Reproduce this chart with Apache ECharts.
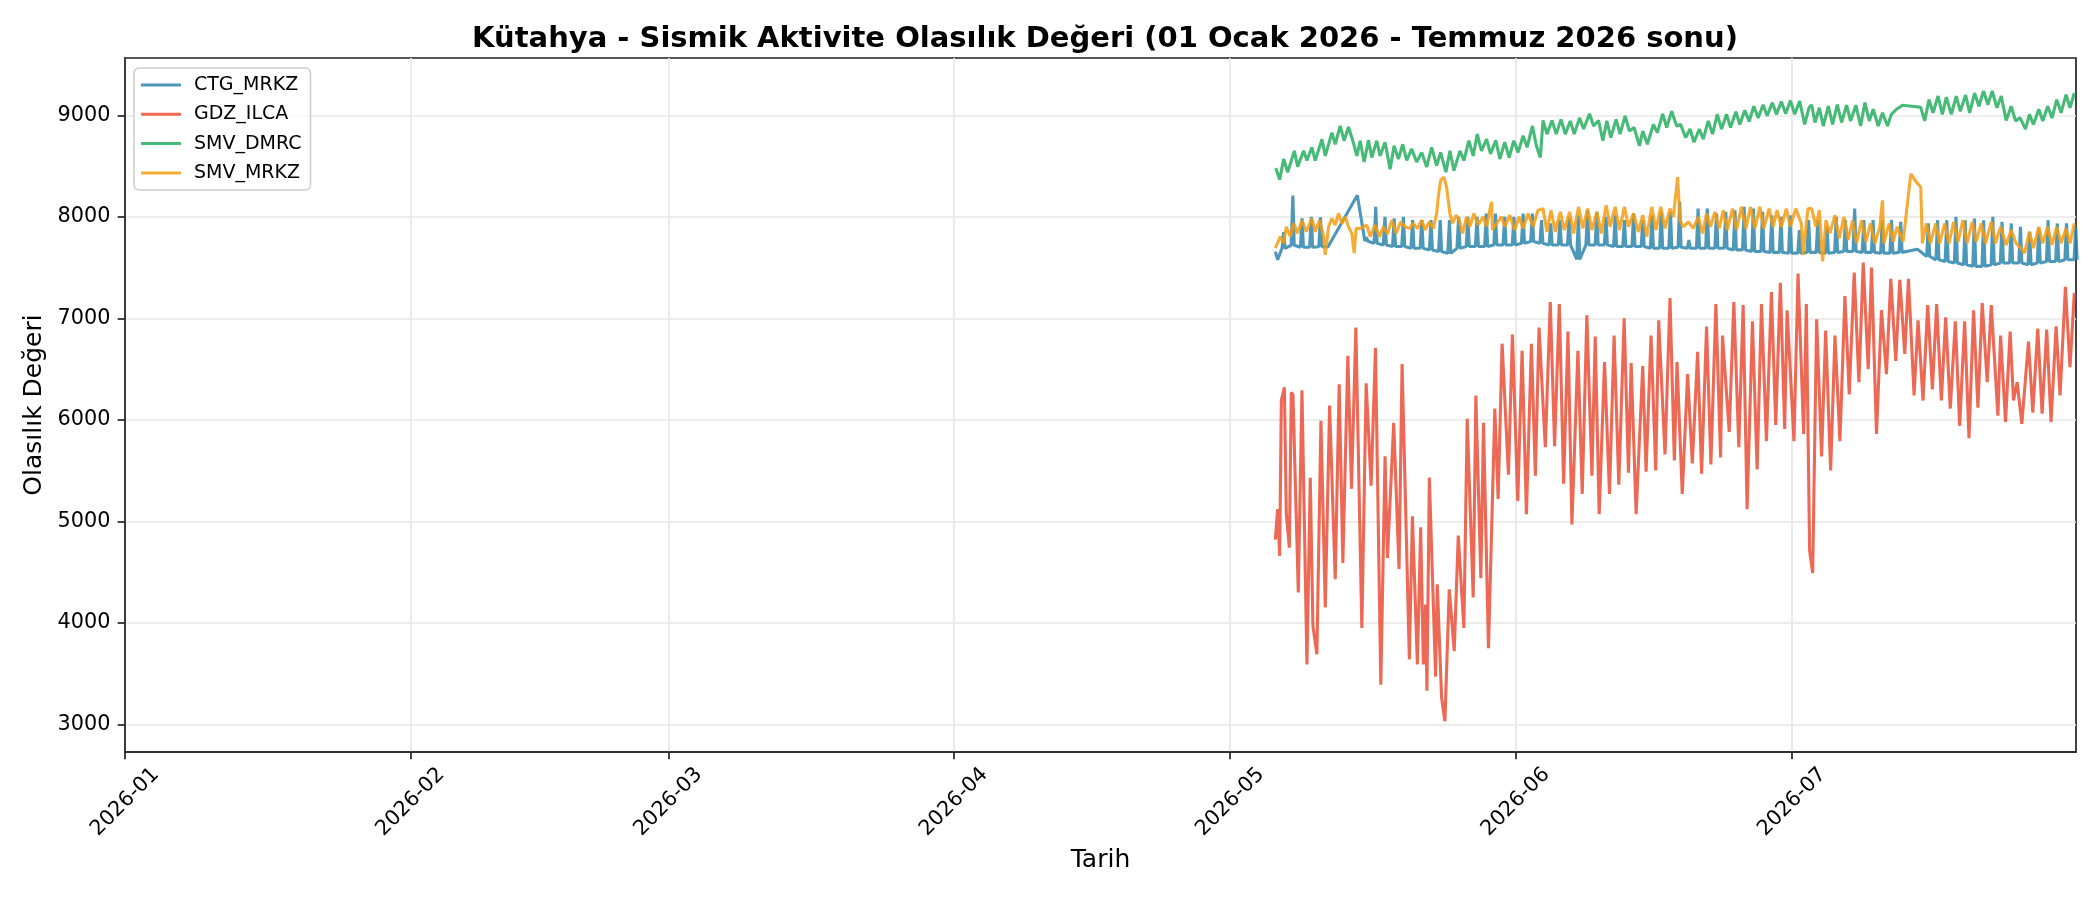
<!DOCTYPE html>
<html>
<head>
<meta charset="utf-8">
<script src="https://cdn.jsdelivr.net/npm/echarts@6/dist/echarts.min.js"></script>
<style>
html,body{margin:0;padding:0;background:#fff;}
#chart{width:2100px;height:900px;}
</style>
</head>
<body>
<div id="chart"></div>
<script>
// ---- DATA (day = days since 2026-01-01 00:00 UTC) ----
const seriesNames = ['CTG_MRKZ', 'GDZ_ILCA', 'SMV_DMRC', 'SMV_MRKZ'];
const monthTicks = ['2026-01-01','2026-02-01','2026-03-01','2026-04-01','2026-05-01','2026-06-01','2026-07-01'];
const yTicks = [3000, 4000, 5000, 6000, 7000, 8000, 9000];

// CTG_MRKZ: leading points, then per-day base level and daily spike (first day = day 125, 2026-05-06)
const ctgLead = [[124.90, 7658], [125.15, 7577]];
const ctgFirstDay = 125;
const ctgBase = [7690,7720,7700,7700,7705,7705,null,null,null,7760,
  7740,7723,7707,7707,7691,7691,7674,7658,7640,7691,
  7707,7707,7707,7723,7723,7723,7739,7756,7739,7723,
  7723,7723,7580,7723,7723,7723,7707,7707,7707,7707,
  7691,7691,7691,7700,7691,7691,7691,7691,7691,7674,
  7674,7658,7658,7650,7650,7642,7642,7650,7650,7642,
  7650,7658,7658,7650,7650,7642,7642,7650,null,7680,
  7610,7577,7560,7545,7528,7512,7512,7528,7545,7545,
  7545,7528,7545,7560,7560,7577,7577];
const ctgPeak = [7850,8210,7985,8000,7995,null,null,null,8212,7800,
  8098,8000,7984,8000,7967,7967,7967,7967,7967,8000,
  8000,8000,8033,8033,8000,8000,8033,8033,7967,7935,
  7967,8000,8016,8065,8049,8000,8016,7967,8033,7967,
  8016,8049,8049,8147,7772,8081,8081,8033,8049,8065,
  8098,8081,8049,8016,8000,8016,7870,7967,7967,7902,
  8000,7967,8081,7967,7967,7967,7967,7951,null,null,
  7935,7967,7967,8000,7967,7984,7967,8000,7951,7935,
  7902,7853,7886,7967,7935,7935,7902];

const GDZ_ILCA = [[124.90,4820],[125.15,5120],[125.37,4660],[125.55,6190],[125.88,6320],[126.09,5070],[126.42,4740],[126.63,6270],[126.81,6250],[127.39,4300],
[127.79,6290],[128.33,3590],[128.69,5430],[128.98,3970],[129.41,3690],[129.85,5990],[130.32,4150],[130.79,6140],[131.40,4430],[131.83,6350],
[132.23,4590],[132.77,6630],[133.17,5320],[133.64,6910],[134.29,3950],[134.76,6360],[135.30,5350],[135.77,6710],[136.35,3390],[136.81,5640],
[137.07,4640],[137.75,5970],[138.33,4530],[138.66,6550],[139.45,3640],[139.78,5050],[140.32,3590],[140.68,4940],[140.97,3590],[141.22,4180],
[141.36,3330],[141.62,5430],[142.30,3470],[142.48,4380],[142.95,3260],[143.31,3030],[143.78,4330],[144.32,3720],[144.76,4860],[145.37,3950],
[145.73,6010],[146.38,4250],[146.67,6240],[147.21,4440],[147.50,5970],[148.04,3750],[148.73,6110],[149.09,5220],[149.52,6750],[150.21,5460],
[150.64,6840],[151.22,5200],[151.69,6680],[152.16,5070],[152.70,6750],[153.13,5450],[153.53,6910],[154.21,5730],[154.75,7160],[155.22,5740],
[155.73,7140],[156.20,5370],[156.67,6870],[157.10,4970],[157.75,6680],[158.22,5270],[158.72,7030],[159.27,5450],[159.63,6820],[160.06,5070],
[160.64,6570],[161.18,5270],[161.68,6830],[162.19,5360],[162.77,7000],[163.24,5480],[163.53,6560],[164.07,5070],[164.79,6530],[165.15,5490],
[165.69,6830],[166.20,5500],[166.52,6980],[167.21,5660],[167.75,7200],[168.22,5600],[168.51,6570],[169.08,5270],[169.66,6450],[170.17,5570],
[170.75,6670],[171.18,5470],[171.72,6920],[172.19,5560],[172.73,7140],[173.24,5630],[173.45,6830],[174.18,5880],[174.68,7160],[175.22,5730],
[175.69,7130],[176.12,5120],[176.70,6970],[177.21,5510],[177.68,7140],[178.22,5790],[178.76,7260],[179.23,5950],[179.73,7350],[180.20,5910],
[180.46,7080],[181.21,5790],[181.65,7440],[182.26,5860],[182.55,7140],[182.91,4710],[183.24,4490],[183.67,6990],[184.21,5640],[184.65,6880],
[185.19,5500],[185.66,6830],[186.20,5790],[186.74,7220],[187.21,6250],[187.75,7450],[188.26,6370],[188.73,7550],[189.27,6500],[189.63,7500],
[190.17,5860],[190.71,7080],[191.25,6450],[191.72,7390],[192.26,6580],[192.70,7380],[193.24,6650],[193.64,7390],[194.25,6240],[194.68,6980],
[195.22,6190],[195.73,7130],[196.24,6300],[196.70,7140],[197.21,6190],[197.68,7010],[198.18,6110],[198.73,6970],[199.20,5940],[199.74,6970],
[200.21,5820],[200.71,7080],[201.18,6120],[201.65,7150],[202.19,6370],[202.63,7130],[203.35,6040],[203.64,6830],[204.18,5980],[204.68,6870],
[205.04,6190],[205.44,6370],[205.95,5960],[206.67,6770],[207.14,6070],[207.68,6900],[208.15,6060],[208.65,6890],[209.12,5980],[209.67,6920],
[210.10,6240],[210.68,7310],[211.18,6520],[211.65,7250]];

const SMV_DMRC = [[124.95,8482],[125.37,8365],[125.80,8570],[126.24,8440],[126.96,8650],[127.32,8495],[127.97,8650],[128.33,8555],[128.87,8685],[129.23,8555],
[129.96,8765],[130.32,8600],[131.04,8830],[131.40,8715],[131.94,8895],[132.37,8750],[132.84,8885],[133.31,8750],[133.75,8600],[134.11,8750],
[134.54,8540],[135.01,8755],[135.37,8585],[135.91,8750],[136.27,8600],[136.81,8735],[137.36,8470],[137.79,8700],[138.26,8570],[138.73,8715],
[139.16,8555],[139.70,8670],[140.24,8540],[140.79,8635],[141.33,8490],[141.87,8685],[142.41,8505],[142.84,8635],[143.42,8440],[143.85,8650],
[144.29,8455],[144.94,8650],[145.37,8555],[145.91,8750],[146.38,8600],[146.82,8815],[147.28,8650],[147.83,8765],[148.26,8620],[148.84,8755],
[149.27,8570],[149.81,8735],[150.28,8585],[150.79,8750],[151.26,8635],[151.80,8800],[152.23,8685],[152.81,8895],[153.24,8700],[153.67,8585],
[153.96,8950],[154.39,8815],[154.93,8950],[155.40,8815],[155.91,8960],[156.38,8815],[156.92,8945],[157.35,8815],[157.93,8975],[158.36,8865],
[159.01,9015],[159.45,8895],[159.99,8950],[160.46,8750],[160.89,8945],[161.32,8780],[161.90,8960],[162.33,8815],[162.88,8995],[163.34,8845],
[163.85,8880],[164.43,8700],[164.79,8845],[165.29,8715],[165.94,8910],[166.38,8830],[166.95,9015],[167.39,8880],[167.93,9040],[168.47,8895],
[168.90,8910],[169.45,8780],[169.92,8865],[170.35,8735],[170.93,8865],[171.36,8765],[171.90,8945],[172.37,8815],[172.88,9010],[173.35,8865],
[173.89,9010],[174.32,8880],[174.90,9035],[175.33,8910],[175.87,9050],[176.34,8940],[176.85,9090],[177.32,8975],[177.86,9105],[178.29,8995],
[178.87,9125],[179.30,9010],[179.84,9135],[180.31,9015],[180.82,9145],[181.29,9010],[181.83,9140],[182.37,8910],[182.84,9075],[183.13,9105],
[183.49,8930],[183.96,9075],[184.39,8895],[184.94,9090],[185.40,8910],[185.91,9105],[186.38,8930],[186.92,9100],[187.35,8945],[187.93,9100],
[188.44,8895],[188.91,9125],[189.38,8945],[189.81,9060],[190.35,8895],[190.82,9025],[191.36,8895],[191.79,9010],[192.34,9060],[192.99,9100],
[194.97,9080],[195.40,8945],[195.87,9155],[196.31,9025],[196.85,9190],[197.32,9010],[197.75,9180],[198.29,9010],[198.83,9190],[199.27,9040],
[199.85,9200],[200.28,9025],[200.82,9220],[201.29,9090],[201.79,9240],[202.26,9105],[202.73,9240],[203.24,9075],[203.71,9190],[204.25,8950],
[204.79,9090],[205.26,8945],[205.77,8975],[206.34,8865],[206.78,9010],[207.21,8910],[207.79,9060],[208.22,8945],[208.76,9090],[209.23,8975],
[209.74,9155],[210.21,9025],[210.75,9205],[211.18,9075],[211.65,9220]];

const SMV_MRKZ = [[124.90,7691],[125.44,7805],[125.80,7739],[126.09,7902],[126.53,7805],[126.89,7935],[127.32,7837],[127.79,7967],[128.26,7853],[128.87,7984],
[129.23,7853],[129.70,7967],[130.14,7805],[130.32,7625],[130.68,7902],[131.04,7984],[131.40,7919],[131.76,8033],[132.12,7935],[132.48,8000],
[132.84,7902],[133.20,7837],[133.46,7642],[133.67,7886],[134.11,7886],[134.47,7902],[134.83,7919],[135.19,7805],[135.73,7919],[136.20,7805],
[136.63,7902],[137.07,7831],[137.54,7967],[138.01,7837],[138.51,7951],[138.98,7902],[139.45,7886],[139.88,7935],[140.32,7886],[140.79,7967],
[141.15,7870],[141.62,7951],[142.05,7886],[142.41,8033],[142.59,8195],[142.84,8358],[143.20,8391],[143.49,8293],[143.85,8033],[144.14,7935],
[144.50,8016],[144.87,7967],[145.23,7837],[145.66,8000],[146.02,7902],[146.45,8033],[146.92,7919],[147.46,8000],[147.83,7902],[148.37,8147],
[148.48,7870],[148.91,7935],[149.45,8000],[149.81,7902],[150.35,8016],[150.89,7870],[151.36,8000],[151.80,7886],[152.34,8033],[152.88,7902],
[153.42,8065],[153.96,8081],[154.39,7853],[154.83,8065],[155.29,7853],[155.84,8049],[156.27,7870],[156.85,8049],[157.28,7837],[157.82,8098],
[158.29,7886],[158.80,8081],[159.27,7870],[159.81,8049],[160.28,7837],[160.82,8114],[161.25,7902],[161.79,8098],[162.26,7870],[162.80,8098],
[163.24,7902],[163.78,8033],[164.32,7853],[164.79,8016],[165.22,7805],[165.76,8098],[166.23,7870],[166.74,8098],[167.21,7886],[167.75,8081],
[168.11,8000],[168.58,8391],[168.83,7967],[169.20,7902],[169.74,7951],[170.28,7886],[170.82,8000],[171.29,7837],[171.72,8033],[172.15,7902],
[172.62,8049],[173.09,7886],[173.53,8065],[173.96,7870],[174.54,8081],[174.97,7870],[175.51,8098],[175.98,7886],[176.49,8098],[176.96,7886],
[177.50,8098],[177.93,7886],[178.51,8081],[178.94,7902],[179.37,8065],[179.84,7902],[180.38,8081],[180.82,7902],[181.40,8081],[182.01,7935],
[182.19,7625],[182.73,8081],[183.13,8081],[183.60,7902],[183.96,8065],[184.32,7560],[184.68,7967],[185.12,7837],[185.66,8016],[186.13,7788],
[186.63,8000],[187.10,7772],[187.57,7967],[188.00,7739],[188.55,7967],[189.02,7756],[189.52,7935],[189.99,7739],[190.53,7902],[190.82,8163],
[190.96,7739],[191.54,7935],[191.98,7756],[192.41,7902],[193.06,7756],[193.89,8423],[194.50,8342],[194.97,8293],[195.15,7739],[195.59,7935],
[196.02,7739],[196.60,7935],[197.03,7739],[197.57,7935],[198.04,7739],[198.55,7951],[199.02,7756],[199.56,7967],[199.99,7739],[200.57,7951],
[201.00,7756],[201.54,7935],[202.01,7739],[202.63,7951],[203.09,7739],[203.64,7902],[204.25,7723],[204.79,7870],[205.33,7739],[205.69,7707],
[206.24,7642],[206.78,7853],[207.21,7691],[207.79,7902],[208.22,7739],[208.76,7902],[209.23,7723],[209.74,7902],[210.21,7739],[210.75,7886],
[211.18,7739],[211.65,7935]];

const xMaxDay = 211.83;

// ---- BUILD ----
const T0 = Date.UTC(2026, 0, 1);
const DAY = 86400000;
const ts = d => T0 + d * DAY;
const toSeries = arr => arr.map(p => [ts(p[0]), p[1]]);

function buildCtg() {
  const out = ctgLead.map(p => [ts(p[0]), p[1]]);
  for (let i = 0; i < ctgBase.length; i++) {
    const d = ctgFirstDay + i, b = ctgBase[i], pk = ctgPeak[i];
    if (b != null) out.push([ts(d + 0.62), b]);
    if (pk != null) {
      out.push([ts(d + 0.8), pk]);
      if (b != null) out.push([ts(d + 0.95), b]);
    }
  }
  return out;
}

const seriesData = [buildCtg(), toSeries(GDZ_ILCA), toSeries(SMV_DMRC), toSeries(SMV_MRKZ)];
const colors = ['#2E86AB', '#E94F37', '#27AE60', '#F39C12'];
const legendColors = ['#4D98B7', '#EC6955', '#47BA78', '#F5AB35'];
const monthValues = monthTicks.map(s => Date.parse(s + 'T00:00:00Z'));

const FONT = 'DejaVu Sans';
const chart = echarts.init(document.getElementById('chart'), null, {renderer: 'canvas'});
chart.setOption({
  animation: false,
  backgroundColor: '#ffffff',
  title: {
    text: 'Kütahya - Sismik Aktivite Olasılık Değeri (01 Ocak 2026 - Temmuz 2026 sonu)',
    left: 1100, top: 20, textAlign: 'center',
    textStyle: {fontFamily: FONT, fontSize: 29, fontWeight: 'bold', color: '#000'}
  },
  legend: {
    orient: 'vertical', left: 134, top: 68,
    data: seriesNames.map((n, i) => ({name: n, itemStyle: {color: legendColors[i]}})),
    icon: 'rect', itemWidth: 40, itemHeight: 3, itemGap: 7.3,
    padding: [6, 9, 6, 7],
    borderColor: '#cccccc', borderWidth: 1.5, borderRadius: 5,
    backgroundColor: 'rgba(255,255,255,0.8)',
    textStyle: {fontFamily: FONT, fontSize: 19, color: '#000', lineHeight: 22, padding: [0, 0, 0, 8]}
  },
  grid: {
    left: 125, right: 24, top: 58, bottom: 148,
    show: true, borderColor: '#222', borderWidth: 1.7, backgroundColor: 'transparent',
    containLabel: false
  },
  xAxis: {
    type: 'value',
    min: T0, max: ts(xMaxDay),
    name: 'Tarih', nameLocation: 'middle', nameGap: 96,
    nameTextStyle: {fontFamily: FONT, fontSize: 25, color: '#000'},
    axisLine: {show: true, onZero: false, lineStyle: {color: '#222', width: 1.7}},
    axisTick: {show: true, inside: false, length: 7.3, lineStyle: {color: '#222', width: 1.7}, customValues: monthValues},
    axisLabel: {
      show: true, rotate: 45, margin: 50, align: 'center', verticalAlign: 'middle',
      fontFamily: FONT, fontSize: 20.8, color: '#000',
      customValues: monthValues,
      formatter: function (v) {
        const d = new Date(v);
        return d.getUTCFullYear() + '-' + String(d.getUTCMonth() + 1).padStart(2, '0');
      }
    },
    splitLine: {show: true, lineStyle: {color: '#e7e7e7', width: 1.7}}
  },
  yAxis: {
    type: 'value',
    min: 2727, max: 9565,
    name: 'Olasılık Değeri', nameLocation: 'middle', nameGap: 64, nameRotate: 90,
    nameTextStyle: {fontFamily: FONT, fontSize: 25, color: '#000'},
    axisLine: {show: true, lineStyle: {color: '#222', width: 1.7}},
    axisTick: {show: true, inside: false, length: 7.3, lineStyle: {color: '#222', width: 1.7}, customValues: yTicks},
    axisLabel: {show: true, margin: 14.6, fontFamily: FONT, fontSize: 20.8, color: '#000', customValues: yTicks,
      formatter: function (v) { return String(Math.round(v)); }},
    splitLine: {show: true, lineStyle: {color: '#e7e7e7', width: 1.7}}
  },
  series: seriesNames.map((n, i) => ({
    name: n, type: 'line', data: seriesData[i],
    showSymbol: false, symbol: 'none',
    color: colors[i],
    lineStyle: {color: colors[i], width: 3.1, opacity: 0.85},
    emphasis: {disabled: true},
    z: 2 + i
  }))
});
</script>
</body>
</html>
